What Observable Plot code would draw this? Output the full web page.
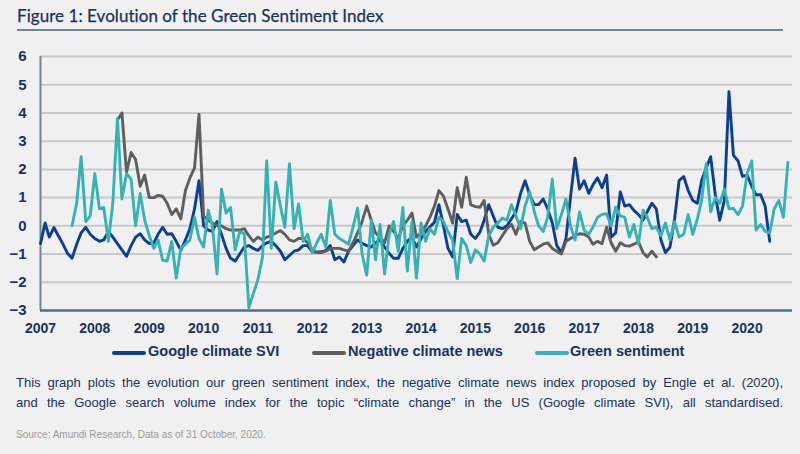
<!DOCTYPE html>
<html><head><meta charset="utf-8">
<script src="https://cdn.jsdelivr.net/npm/d3@7"></script>
<script src="https://cdn.jsdelivr.net/npm/@observablehq/plot@0.6"></script>
<style>
html,body{margin:0;padding:0;background:#f0f0f0;width:800px;height:454px;overflow:hidden;font-family:"Liberation Sans",Arial,sans-serif;}
#title{position:absolute;left:17px;top:5px;font-family:Lato,"Open Sans",sans-serif;font-size:17px;color:#17335f;letter-spacing:0.05px;-webkit-text-stroke:0.25px #17335f;}
#rule{position:absolute;left:17px;top:29px;width:766px;height:2px;background:#6d8596;}
#chart{position:absolute;left:0;top:40px;}
#chart svg text{font-weight:bold;}
.leg{position:absolute;top:343px;font-weight:bold;font-size:14.5px;color:#17335f;white-space:nowrap;}
.sw{position:absolute;top:351px;height:4px;width:34px;border-radius:2px;}
.cap{position:absolute;left:16px;width:767px;font-size:13px;color:#17335f;text-align:justify;text-align-last:justify;white-space:nowrap;}
#src{position:absolute;left:16px;top:429px;font-size:10px;color:#9c9c9c;}
</style>
</head><body>
<div id="title">Figure 1: Evolution of the Green Sentiment Index</div>
<div id="rule"></div>
<div id="chart"></div>
<div class="sw" style="left:112px;background:#0b3f96"></div><div class="leg" style="left:148px">Google climate SVI</div>
<div class="sw" style="left:312px;background:#5e5e5e"></div><div class="leg" style="left:348px">Negative climate news</div>
<div class="sw" style="left:535px;background:#36b2b6"></div><div class="leg" style="left:570px">Green sentiment</div>
<div class="cap" style="top:375px">This graph plots the evolution our green sentiment index, the negative climate news index proposed by Engle et al. (2020),</div>
<div class="cap" style="top:395px">and the Google search volume index for the topic “climate change” in the US (Google climate SVI), all standardised.</div>
<div id="src">Source: Amundi Research, Data as of 31 October, 2020.</div>
<script>
const years = d3.range(2007, 2021);
const yTicks = d3.range(-3, 7);
const seriesNames = ["Google climate SVI", "Negative climate news", "Green sentiment"];
const seriesColors = ["#0b3f96", "#5e5e5e", "#36b2b6"];

// Google climate SVI, monthly from Jan 2007
const sviStart = [2007, 0];
const sviValues = [-0.63,0.1,-0.4,-0.06,-0.35,-0.65,-0.97,-1.15,-0.65,-0.25,-0.05,-0.3,
-0.45,-0.55,-0.5,-0.2,-0.4,-0.63,-0.85,-1.08,-0.7,-0.4,-0.28,-0.5,
-0.63,-0.6,-0.3,-0.05,-0.3,-0.28,-0.55,-0.87,-0.5,-0.1,0.6,1.6,
0.0,-0.15,-0.2,0.15,-0.3,-0.8,-1.15,-1.25,-1.0,-0.75,-0.7,-0.8,
-0.87,-0.7,-0.6,-0.55,-0.7,-0.9,-1.2,-1.05,-0.9,-0.85,-0.7,-0.7,
-0.92,-0.93,-0.92,-0.87,-0.7,-1.2,-1.1,-1.28,-0.9,-0.7,-0.5,-0.62,
-0.7,-0.75,-0.6,-0.5,-0.75,-0.98,-1.15,-1.15,-0.8,-0.55,-0.4,-0.75,
-0.45,-0.2,-0.04,0.13,0.75,0.0,-0.8,-1.1,0.4,0.15,0.2,-0.3,
-0.45,-0.22,0.2,0.75,0.35,-0.05,-0.1,0.0,0.25,0.5,1.15,1.6,
1.1,0.75,0.75,0.95,0.6,0.1,-0.7,-0.95,-0.45,1.0,2.4,1.3,
1.6,1.15,1.45,1.7,1.35,1.8,-0.4,-0.25,1.2,0.7,0.75,0.55,
0.4,0.2,0.5,0.8,0.6,-0.5,-0.95,-0.75,0.25,1.6,1.75,1.25,
0.9,0.8,1.6,2.05,2.45,1.1,0.2,0.9,4.75,2.5,2.3,1.75,
1.8,1.4,1.1,1.1,0.7,-0.55];

// Negative climate news, monthly from Jun 2008
const newsStart = [2008, 5];
const newsValues = [3.75,4.0,1.9,2.6,2.35,1.4,1.8,
1.0,1.0,1.08,1.05,0.8,0.4,0.6,0.25,1.25,1.7,2.05,3.95,
0.35,0.2,0.1,0.02,0.0,-0.1,-0.15,-0.15,-0.15,-0.1,-0.35,-0.55,
-0.4,-0.5,-0.4,-0.35,-0.25,-0.17,-0.3,-0.5,-0.55,-0.45,-0.45,-0.6,
-0.85,-0.95,-0.95,-0.9,-0.8,-0.8,-0.8,-0.85,-0.9,-0.6,-0.25,0.15,
0.7,0.2,-0.25,-0.4,-0.6,0.0,-0.2,-0.45,0.0,0.2,0.45,-0.4,
-0.25,0.0,0.3,0.7,1.25,1.05,0.6,0.1,1.35,0.66,1.72,0.75,
0.68,0.66,0.9,-0.3,-0.69,-0.6,-0.35,-0.1,0.05,-0.3,0.15,0.1,
-0.55,-0.85,-0.75,-0.65,-0.6,-0.8,-0.9,-1.0,-0.55,-0.45,-0.35,-0.28,
-0.3,-0.4,-0.65,-0.55,-0.63,-0.05,-0.6,-0.9,-0.6,-0.7,-0.72,-0.65,
-0.57,-0.95,-1.1,-0.9,-1.1];

// Green sentiment, monthly from Aug 2007
const greenStart = [2007, 7];
const greenValues = [0.0,0.8,2.45,0.15,0.35,
1.85,0.6,0.65,-0.55,0.8,3.8,0.95,1.85,1.65,0.0,1.15,0.2,
-0.35,-0.8,-0.5,-1.22,-1.25,-0.55,-1.85,-0.8,-0.65,-0.5,0.3,-0.45,
-0.75,0.55,0.0,-1.7,1.3,0.45,0.65,-0.85,-0.2,-0.28,-2.9,-2.4,
-1.9,-1.1,2.3,-0.8,1.55,0.7,-0.05,2.2,-0.1,0.78,-0.55,-0.3,
-0.95,-0.6,-0.3,-0.75,0.9,-0.3,-0.45,-0.55,-0.65,-0.05,0.63,-1.0,
-1.75,0.2,-1.2,0.05,-1.7,-0.3,0.15,-0.9,0.65,-1.6,0.15,-1.85,
0.1,-0.55,-0.1,-0.3,0.3,0.15,-0.2,-0.5,-1.87,-0.45,-0.7,-1.3,
-0.85,-1.0,-1.25,-0.35,-0.05,0.1,0.28,0.2,0.75,0.35,-0.1,0.7,
1.2,0.5,0.0,-0.2,0.3,1.65,-0.1,0.4,0.95,0.0,-0.5,0.49,
-0.15,-0.3,-0.05,0.3,0.4,0.43,0.0,0.66,0.35,0.3,-0.4,0.05,
-0.65,0.55,0.3,-0.1,-0.05,-0.35,0.1,-0.5,0.15,-0.4,-0.3,0.4,
-0.3,0.25,0.9,2.2,0.5,1.0,0.8,1.3,0.6,0.62,0.4,0.7,
1.85,2.3,-0.15,0.05,-0.2,-0.25,0.6,0.9,0.3,2.25];

function monthly(start, values, name) {
  const t0 = new Date(Date.UTC(start[0], start[1], 1));
  return values.map((v, i) => ({date: d3.utcMonth.offset(t0, i), value: v, series: name}));
}
const sviData = monthly(sviStart, sviValues, seriesNames[0]);
const newsData = monthly(newsStart, newsValues, seriesNames[1]);
const greenData = monthly(greenStart, greenValues, seriesNames[2]);

const chart = Plot.plot({
  width: 800, height: 300,
  marginLeft: 40, marginRight: 8, marginTop: 16, marginBottom: 30,
  style: {background: "transparent", fontFamily: "'Liberation Sans', Arial, sans-serif"},
  x: {type: "utc", domain: [new Date(Date.UTC(2007,0,1)), new Date(Date.UTC(2020,10,1))]},
  y: {domain: [-3, 6]},
  marks: [
    Plot.ruleY(d3.range(-2, 7), {stroke: "#c9c9c9", strokeWidth: 2}),
    Plot.ruleX([new Date(Date.UTC(2007,0,1))], {y1: -3, y2: 6, stroke: "#6f8797", strokeWidth: 2}),
    Plot.lineY(sviData, {x: "date", y: "value", stroke: seriesColors[0], strokeWidth: 2.9}),
    Plot.lineY(newsData, {x: "date", y: "value", stroke: seriesColors[1], strokeWidth: 2.9}),
    Plot.lineY(greenData, {x: "date", y: "value", stroke: seriesColors[2], strokeWidth: 2.9}),
    Plot.ruleY([-3], {stroke: "#4f7085", strokeWidth: 2.5}),
    Plot.axisY({ticks: yTicks, tickSize: 0, tickPadding: 14, fontSize: 15, fill: "#17335f", label: null}),
    Plot.axisX({ticks: years.map(y => new Date(Date.UTC(y,0,1))), tickFormat: d3.utcFormat("%Y"), tickSize: 0, tickPadding: 13, fontSize: 14, fill: "#17335f", label: null})
  ]
});
document.getElementById("chart").appendChild(chart);
</script>
</body></html>
